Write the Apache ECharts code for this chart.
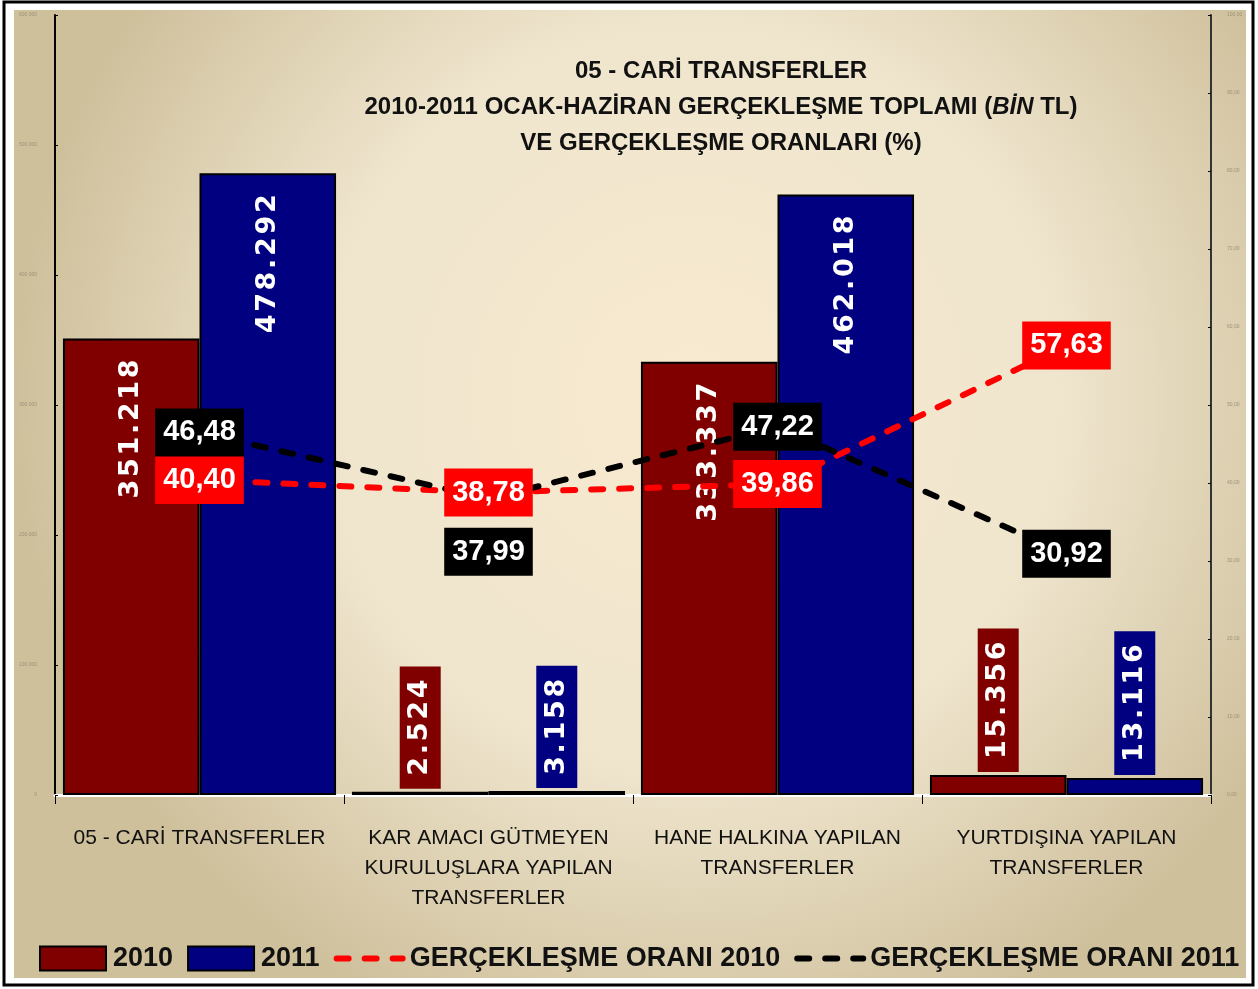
<!DOCTYPE html>
<html>
<head>
<meta charset="utf-8">
<script src="https://cdn.jsdelivr.net/npm/echarts@6/dist/echarts.min.js"></script>
<style>
  html, body { margin: 0; padding: 0; background: #fff; }
  #chart { width: 1258px; height: 989px; }
</style>
</head>
<body>
<div id="chart"></div>
<script>
// kategoriler ve değerler (BİN TL)
const categories = [
  '05 - CARİ TRANSFERLER',
  'KAR AMACI GÜTMEYEN\nKURULUŞLARA YAPILAN\nTRANSFERLER',
  'HANE HALKINA YAPILAN\nTRANSFERLER',
  'YURTDIŞINA YAPILAN\nTRANSFERLER'
];
const total2010 = [351218, 2524, 333337, 15356];
const total2011 = [478292, 3158, 462018, 13116];
// gerçekleşme oranları (%)
const rate2010 = [40.40, 38.78, 39.86, 57.63];
const rate2011 = [46.48, 37.99, 47.22, 30.92];
const seriesNames = ['2010', '2011', 'GERÇEKLEŞME ORANI 2010', 'GERÇEKLEŞME ORANI 2011'];
const leftAxis = { min: 0, max: 600000, interval: 100000 };
const rightAxis = { min: 0, max: 100, interval: 10 };

const NARROW = "'Liberation Sans', Arial, sans-serif";
const WIDE = "'DejaVu Sans', Verdana, sans-serif";

const fmtThousands = v => String(v).replace(/\B(?=(\d{3})+(?!\d))/g, '.');
const fmtRate = v => v.toFixed(2).replace('.', ',');
// çubuk etiketlerinde harf aralığı
const spaced = s => s.split('').join('\u200a');

const myEcharts = echarts.init(document.getElementById('chart'));

// büyük çubuklarda etiket içeride, küçüklerde üstte kutu içinde
function barData(values, color) {
  return values.map(v => {
    if (v > 100000) {
      return {
        value: v,
        label: { position: 'insideTop', distance: 21, align: 'right' }
      };
    }
    return {
      value: v,
      label: {
        position: 'top', distance: 3, align: 'left',
        backgroundColor: color, padding: [7, 13]
      }
    };
  });
}

function barLabel() {
  return {
    show: true,
    rotate: 90,
    verticalAlign: 'middle',
    color: '#fff',
    fontFamily: WIDE,
    fontWeight: 'bold',
    fontSize: 27,
    lineHeight: 27,
    formatter: p => spaced(fmtThousands(p.value))
  };
}

function rateSeries(name, values, color, below) {
  return {
    name: name,
    type: 'line',
    yAxisIndex: 1,
    z: 5,
    symbol: 'circle',
    symbolSize: 2,
    itemStyle: { color: color },
    lineStyle: { color: color, width: 6, type: [12, 16], cap: 'round' },
    data: values.map((v, i) => below.indexOf(i) >= 0
      ? { value: v, label: { offset: [0, 53] } }
      : v),
    label: {
      show: true,
      position: 'inside',
      color: '#fff',
      backgroundColor: color,
      fontFamily: NARROW,
      fontWeight: 'bold',
      fontSize: 29,
      lineHeight: 30,
      padding: [9, 8],
      formatter: p => fmtRate(p.value)
    }
  };
}

const option = {
  backgroundColor: '#fff',
  animation: false,
  color: ['#800000', '#000080', '#ff0000', '#000000'],
  graphic: [
    {
      type: 'rect', z: -10, silent: true,
      shape: { x: 14, y: 10, width: 1232, height: 968 },
      style: {
        fill: {
          type: 'radial', x: 0.55, y: 0.4, r: 0.7,
          colorStops: [
            { offset: 0, color: '#f8ead0' },
            { offset: 0.55, color: '#efe5cd' },
            { offset: 1, color: '#cfc09c' }
          ]
        }
      }
    },
    {
      type: 'rect', z: 100, silent: true,
      shape: { x: 4, y: 2, width: 1249, height: 983 },
      style: { fill: 'none', stroke: '#000', lineWidth: 3 }
    }
  ],
  title: {
    left: 716,
    top: 48,
    textAlign: 'center',
    text: '05 - CARİ TRANSFERLER\n2010-2011 OCAK-HAZİRAN GERÇEKLEŞME TOPLAMI ({i|BİN} TL)\nVE GERÇEKLEŞME ORANLARI (%)',
    textStyle: {
      fontFamily: NARROW,
      fontWeight: 'bold',
      fontSize: 24,
      lineHeight: 36,
      color: '#111',
      rich: {
        i: { fontFamily: NARROW, fontWeight: 'bold', fontStyle: 'italic', fontSize: 24, lineHeight: 36, color: '#111' }
      }
    }
  },
  legend: {
    data: [
      { name: seriesNames[0], icon: 'rect' },
      { name: seriesNames[1], icon: 'rect' },
      { name: seriesNames[2], itemStyle: { opacity: 0 }, lineStyle: { width: 6 } },
      { name: seriesNames[3], itemStyle: { opacity: 0 }, lineStyle: { width: 6 } }
    ],
    left: 34,
    top: 940,
    itemWidth: 66,
    itemHeight: 24,
    itemGap: 14,
    textStyle: { fontFamily: NARROW, fontWeight: 'bold', fontSize: 27, color: '#111', padding: [0, 0, 0, 2] }
  },
  grid: { left: 55, right: 47, top: 15, bottom: 194 },
  xAxis: {
    type: 'category',
    data: categories,
    axisLine: { lineStyle: { color: '#fff', width: 3 } },
    axisTick: { show: true, length: 9, lineStyle: { color: '#000', width: 1 } },
    axisLabel: {
      margin: 28,
      interval: 0,
      fontFamily: NARROW,
      fontSize: 21,
      lineHeight: 30,
      color: '#111'
    }
  },
  yAxis: [
    {
      type: 'value',
      min: leftAxis.min, max: leftAxis.max, interval: leftAxis.interval,
      splitLine: { show: false },
      axisLine: { show: true, lineStyle: { color: '#000', width: 2 } },
      axisTick: { show: true, inside: true, length: 3, lineStyle: { color: '#000' } },
      axisLabel: { margin: 18, fontSize: 5, color: '#9c917a', formatter: v => fmtThousands(v) }
    },
    {
      type: 'value',
      min: rightAxis.min, max: rightAxis.max, interval: rightAxis.interval,
      position: 'right',
      splitLine: { show: false },
      axisLine: { show: true, lineStyle: { color: '#333', width: 2 } },
      axisTick: { show: true, inside: true, length: 3, lineStyle: { color: '#000' } },
      axisLabel: { margin: 16, fontSize: 5, color: '#9c917a', formatter: v => v.toFixed(2).replace('.', ',') }
    }
  ],
  series: [
    {
      name: seriesNames[0],
      type: 'bar',
      barGap: '0%',
      barCategoryGap: '5.5%',
      itemStyle: { color: '#800000', borderColor: '#000', borderWidth: 2 },
      label: barLabel(),
      data: barData(total2010, '#800000')
    },
    {
      name: seriesNames[1],
      type: 'bar',
      itemStyle: { color: '#000080', borderColor: '#000', borderWidth: 2 },
      label: barLabel(),
      data: barData(total2011, '#000080')
    },
    rateSeries(seriesNames[2], rate2010, '#ff0000', []),
    rateSeries(seriesNames[3], rate2011, '#000000', [1])
  ]
};

myEcharts.setOption(option);
</script>
</body>
</html>
